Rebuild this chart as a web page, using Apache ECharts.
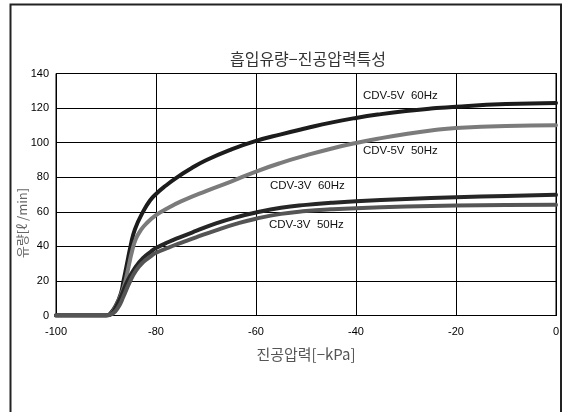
<!DOCTYPE html>
<html><head><meta charset="utf-8">
<script src="https://cdn.jsdelivr.net/npm/echarts@6/dist/echarts.min.js"></script>
<style>html,body{margin:0;padding:0;background:#fff}#c{width:564px;height:412px}</style>
</head><body><div id="c"></div>
<script>
var xTicks = [-100, -80, -60, -40, -20, 0];
var yTicks = [0, 20, 40, 60, 80, 100, 120, 140];
var cdv5v60 = [[-100,0],[-90,0],[-89.2,1],[-88,6],[-87,13],[-86.5,20],[-85.8,30],[-85.1,40],[-84.2,50],[-82.5,60.5],[-81.2,66.5],[-80,70.3],[-78,75.2],[-76,79.5],[-73,85],[-70,89.8],[-65,96],[-60,101],[-55,104.8],[-50,108.3],[-45,111.6],[-40,114.3],[-35,116.5],[-30,118.3],[-25,119.7],[-20,120.8],[-10,122.3],[0,123]];
var cdv5v50 = [[-100,0],[-90,0],[-89,1],[-88,5.5],[-87,12],[-86.2,19],[-85.5,28],[-84.8,37],[-84,44.5],[-83,49.5],[-82,53],[-80,58],[-77.5,62.3],[-75,66],[-70,72],[-65,77.5],[-60,83.3],[-55,88.3],[-50,92.6],[-45,96.5],[-40,99.8],[-35,102.6],[-30,105],[-25,107],[-20,108.5],[-10,109.7],[0,110]];
var cdv3v60 = [[-100,0],[-90,0],[-88.9,1],[-88,5],[-87,11],[-86.3,16],[-85.7,20],[-84.1,28],[-82.5,33.5],[-81,37],[-80,39],[-77.5,42.5],[-75,45.5],[-72,48.9],[-68,53.3],[-64,56.8],[-60,59.6],[-55,62.3],[-50,64],[-45,65.2],[-40,66.1],[-30,67.4],[-20,68.4],[-10,69.2],[0,69.8]];
var cdv3v50 = [[-100,0],[-90,0],[-88.7,1],[-87.5,5],[-86.5,11],[-85.3,19],[-84,26],[-82.5,31],[-81,34.3],[-80,36.3],[-77.5,39.3],[-75,42],[-72,45.2],[-68,49.3],[-64,53],[-60,56],[-55,58.8],[-50,60.4],[-45,61.4],[-40,62.1],[-30,63],[-20,63.6],[-10,63.9],[0,64]];
var seriesNames = ['CDV-5V  60Hz','CDV-5V  50Hz','CDV-3V  60Hz','CDV-3V  50Hz'];
var colors = ['#1c1c1c','#7b7b7b','#262626','#555555'];
var dataSets = [cdv5v60, cdv5v50, cdv3v60, cdv3v50];
var xName = '진공압력[−kPa]';
var yName = '유량[ℓ /min]';

var chart = echarts.init(document.getElementById('c'));
var labelFont = '"Liberation Sans", Arial, sans-serif';
var krFont = '"Noto Sans CJK KR", sans-serif';
chart.setOption({
  animation: false,
  backgroundColor: '#fff',
  title: {
    text: '흡입유량−진공압력특성', left: 303, top: 46, textAlign: 'center',
    textStyle: { fontFamily: krFont, fontSize: 16, fontWeight: 'normal', color: '#333' }
  },
  grid: { left: 56, right: 8, top: 73.5, bottom: 96.5, show: true, borderColor: '#000', borderWidth: 1 },
  xAxis: {
    type: 'value', min: xTicks[0], max: xTicks[xTicks.length-1], interval: 20,
    name: xName, nameLocation: 'middle', nameGap: 31,
    nameTextStyle: { fontFamily: krFont, fontSize: 15, color: '#555' },
    axisLine: { lineStyle: { color: '#000', width: 1 } },
    axisTick: { show: false },
    axisLabel: { fontFamily: labelFont, fontSize: 11, color: '#000', margin: 11 },
    splitLine: { show: true, lineStyle: { color: '#000', width: 1 } }
  },
  yAxis: {
    type: 'value', min: yTicks[0], max: yTicks[yTicks.length-1], interval: 20,
    axisLine: { show: true, lineStyle: { color: '#000', width: 1 } },
    axisTick: { show: false },
    axisLabel: { fontFamily: labelFont, fontSize: 11, color: '#000', margin: 7 },
    splitLine: { show: true, lineStyle: { color: '#000', width: 1 } }
  },
  series: dataSets.map(function (d, i) {
    return {
      name: seriesNames[i], type: 'line', data: d, showSymbol: false,
      smooth: 0.5,
      lineStyle: { color: colors[i], width: 4, cap: 'round', join: 'round' }, z: 3 + i
    };
  }),
  graphic: [
    { type: 'rect', shape: { x: 10.5, y: 4.5, width: 550.5, height: 420 }, style: { fill: 'none', stroke: '#222', lineWidth: 2 }, silent: true, z: 100 },
    { type: 'text', x: 22, y: 223, rotation: Math.PI / 2, style: { text: yName, font: '13px ' + krFont, fill: '#666', align: 'center', verticalAlign: 'middle' } },
    { type: 'text', left: 363, top: 90, style: { text: seriesNames[0], font: '11.5px ' + labelFont, fill: '#111' } },
    { type: 'text', left: 363, top: 145, style: { text: seriesNames[1], font: '11.5px ' + labelFont, fill: '#111' } },
    { type: 'text', left: 270, top: 180, style: { text: seriesNames[2], font: '11.5px ' + labelFont, fill: '#111' } },
    { type: 'text', left: 269, top: 219, style: { text: seriesNames[3], font: '11.5px ' + labelFont, fill: '#111' } }
  ]
});
</script></body></html>
